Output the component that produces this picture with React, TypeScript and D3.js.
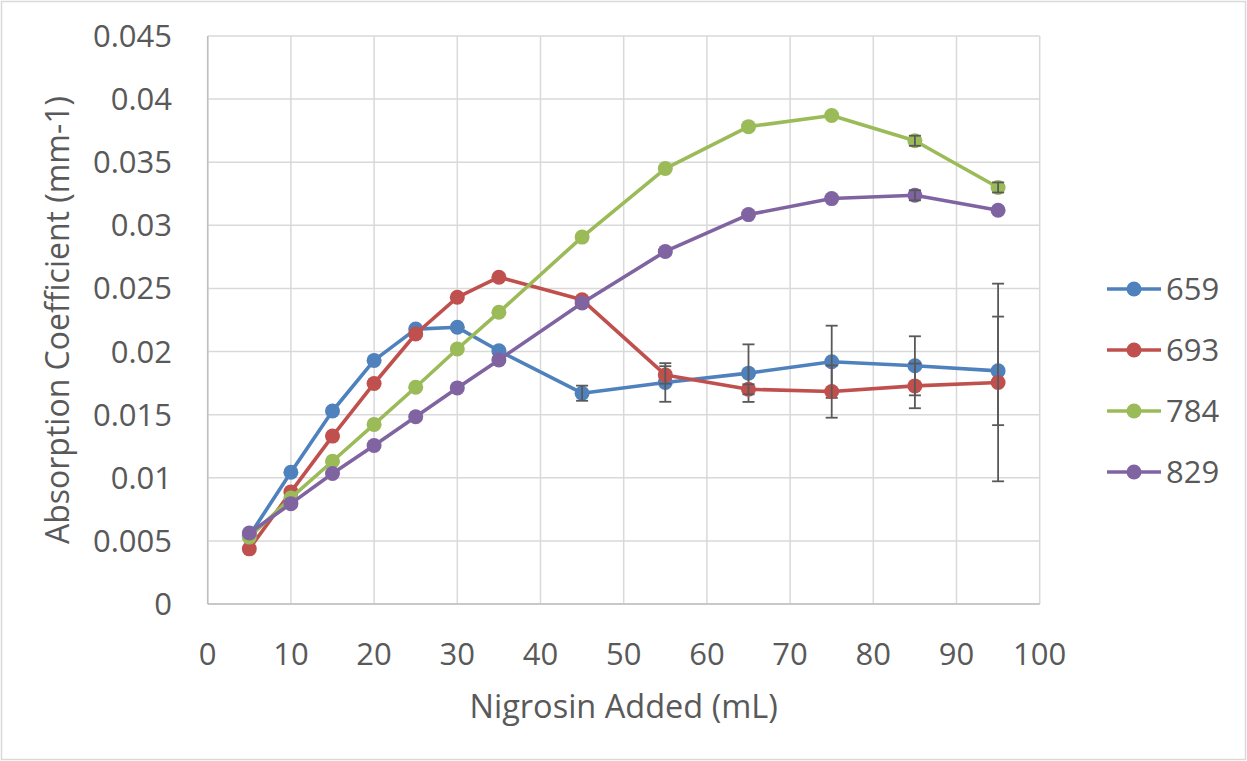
import React from "react";
import * as d3 from "d3";

const xValues = [5, 10, 15, 20, 25, 30, 35, 45, 55, 65, 75, 85, 95];
const seriesNames = ["659", "693", "784", "829"];
const s659 = [0.0054, 0.01044, 0.01529, 0.0193, 0.02178, 0.02192, 0.02006, 0.0167, 0.01755, 0.01829, 0.01919, 0.01887, 0.01847];
const s693 = [0.00437, 0.00888, 0.0133, 0.01747, 0.02139, 0.0243, 0.02589, 0.0241, 0.01815, 0.01701, 0.01683, 0.01728, 0.01755];
const s784 = [0.0053, 0.0084, 0.01131, 0.01423, 0.01717, 0.0202, 0.02311, 0.02907, 0.0345, 0.03782, 0.0387, 0.0367, 0.033];
const s829 = [0.00562, 0.00795, 0.01034, 0.01256, 0.01484, 0.01712, 0.01934, 0.02385, 0.02793, 0.03085, 0.03212, 0.03238, 0.03119];
const e659 = [0, 0, 0, 0, 0, 0, 0, 0.0006, 0.00153, 0.00228, 0.00286, 0.00234, 0.0043];
const e693 = [0, 0, 0, 0, 0, 0, 0, 0, 0.00069, 0.0004, 0.00207, 0.00177, 0.00783];
const e784 = [0, 0, 0, 0, 0, 0, 0, 0, 0, 0, 0, 0.0004, 0.0004];
const e829 = [0, 0, 0, 0, 0, 0, 0, 0, 0, 0, 0, 0.0004, 0];
const colors = ["#4f81bd", "#c0504d", "#9bbb59", "#8064a2"];
const xTicks = [0, 10, 20, 30, 40, 50, 60, 70, 80, 90, 100];
const yTicks = [0, 0.005, 0.01, 0.015, 0.02, 0.025, 0.03, 0.035, 0.04, 0.045];

const W = 1247;
const H = 761;
const L = 207.7, R = 1039.7, T = 36, B = 604;
const FONT = "'Open Sans', sans-serif";
const TXT = "#595959";

export default function App() {
  const x = d3.scaleLinear().domain([0, 100]).range([L, R]);
  const y = d3.scaleLinear().domain([0, 0.045]).range([B, T]);
  const allSeries = [s659, s693, s784, s829];
  const allErr = [e659, e693, e784, e829];
  const line = d3
    .line<number>()
    .x((_, i) => x(xValues[i]))
    .y((d) => y(d));
  const legendY = [289, 350, 411, 472];

  return (
    <svg
      width={W}
      height={H}
      style={{ position: "absolute", left: 0, top: 0, background: "#fff" }}
      fontFamily={FONT}
    >
      <rect x={1.5} y={1.5} width={W - 3} height={H - 3} fill="#fff" stroke="#d9d9d9" strokeWidth={1.5} />
      {yTicks.map((t) => (
        <line key={"gy" + t} x1={L} x2={R} y1={y(t)} y2={y(t)} stroke="#d9d9d9" strokeWidth={1.5} />
      ))}
      {xTicks.map((t) => (
        <line key={"gx" + t} x1={x(t)} x2={x(t)} y1={T} y2={B} stroke="#d9d9d9" strokeWidth={1.5} />
      ))}
      <line x1={L} x2={R} y1={B} y2={B} stroke="#bfbfbf" strokeWidth={1.5} />
      <line x1={L} x2={L} y1={T} y2={B} stroke="#bfbfbf" strokeWidth={1.5} />
      {yTicks.map((t) => (
        <text key={"ty" + t} x={172} y={y(t) + 11} textAnchor="end" fontSize={31} fill={TXT}>
          {String(t)}
        </text>
      ))}
      {xTicks.map((t) => (
        <text key={"tx" + t} x={x(t)} y={665} textAnchor="middle" fontSize={31} fill={TXT}>
          {String(t)}
        </text>
      ))}
      <text x={(L + R) / 2} y={718} textAnchor="middle" fontSize={32.5} fill={TXT}>
        Nigrosin Added (mL)
      </text>
      <text
        transform={`translate(69, ${(T + B) / 2}) rotate(-90)`}
        textAnchor="middle"
        fontSize={32}
        fill={TXT}
      >
        Absorption Coefficient (mm-1)
      </text>
      {allSeries.map((s, si) => (
        <g key={"s" + si}>
          <path d={line(s) || ""} fill="none" stroke={colors[si]} strokeWidth={3.6} strokeLinejoin="round" />
          {s.map((v, i) => (
            <circle key={i} cx={x(xValues[i])} cy={y(v)} r={7.5} fill={colors[si]} />
          ))}
          {s.map((v, i) => {
            const e = allErr[si][i];
            if (!e) return null;
            const cx = x(xValues[i]);
            const y1 = y(v + e);
            const y2 = y(v - e);
            return (
              <g key={"e" + i} stroke="#595959" strokeWidth={1.8}>
                <line x1={cx} x2={cx} y1={y1} y2={y2} />
                <line x1={cx - 6} x2={cx + 6} y1={y1} y2={y1} />
                <line x1={cx - 6} x2={cx + 6} y1={y2} y2={y2} />
              </g>
            );
          })}
        </g>
      ))}
      {seriesNames.map((n, i) => (
        <g key={"lg" + n}>
          <line x1={1107} x2={1161} y1={legendY[i]} y2={legendY[i]} stroke={colors[i]} strokeWidth={3.6} />
          <circle cx={1134} cy={legendY[i]} r={7.5} fill={colors[i]} />
          <text x={1166} y={legendY[i] + 11} fontSize={31} fill={TXT}>
            {n}
          </text>
        </g>
      ))}
    </svg>
  );
}
